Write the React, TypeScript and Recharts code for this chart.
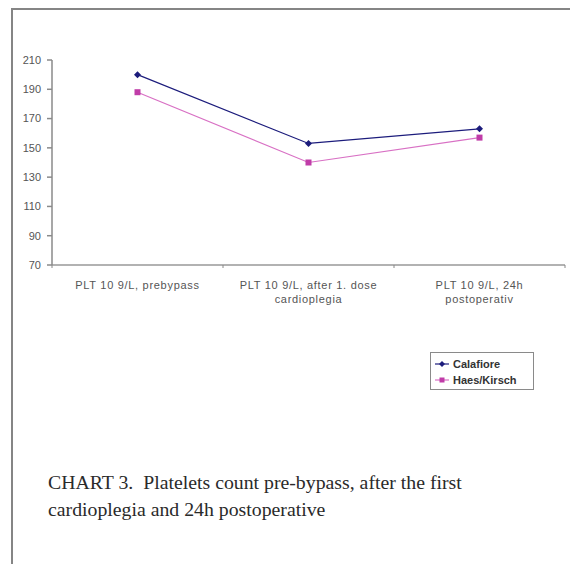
import React from 'react';
import { LineChart, Line, XAxis, YAxis } from 'recharts';

const categories = ['prebypass', 'after1', 'postop'];
const tickLines: string[][] = [
  ['PLT 10 9/L, prebypass'],
  ['PLT 10 9/L, after 1. dose', 'cardioplegia'],
  ['PLT 10 9/L, 24h', 'postoperativ'],
];
const calafiore = [200, 153, 163];
const haesKirsch = [188, 140, 157];
const yTicks = [70, 90, 110, 130, 150, 170, 190, 210];
const seriesNames = ['Calafiore', 'Haes/Kirsch'];

const BLUE = '#1c1c7c';
const PINK = '#d870c4';
const PINK_MARK = '#c03ca8';
const FONT = "'Liberation Sans', Arial, sans-serif";

const data = categories.map((c, i) => ({
  cat: c,
  calafiore: calafiore[i],
  haes: haesKirsch[i],
}));

const Diamond = (props: any) => {
  const { cx, cy } = props;
  if (cx == null || cy == null) return null;
  return <polygon points={`${cx},${cy - 3.5} ${cx + 3.5},${cy} ${cx},${cy + 3.5} ${cx - 3.5},${cy}`} fill={BLUE} />;
};

const Square = (props: any) => {
  const { cx, cy } = props;
  if (cx == null || cy == null) return null;
  return <rect x={cx - 3} y={cy - 3} width={6} height={6} fill={PINK_MARK} />;
};

const CategoryTick = (props: any) => {
  const { x, y, payload } = props;
  const idx = categories.indexOf(payload.value);
  const lines = tickLines[idx] || [];
  const half = payload.offset || 85.5;
  return (
    <g>
      <line x1={x - half} y1={y - 8} x2={x - half} y2={y - 5} stroke="#888" />
      {idx === categories.length - 1 && (
        <line x1={x + half} y1={y - 8} x2={x + half} y2={y - 5} stroke="#888" />
      )}
      {lines.map((l, i) => (
        <text key={i} x={x} y={y + 16 + i * 14} textAnchor="middle" fontSize={11} letterSpacing={0.7} fill="#555" fontFamily={FONT}>
          {l}
        </text>
      ))}
    </g>
  );
};

const LegendIcon = ({ color, mark, square }: { color: string; mark: string; square: boolean }) => (
  <svg width={16} height={8} style={{ marginRight: 3 }}>
    <line x1={1} y1={4} x2={15} y2={4} stroke={color} strokeWidth={1.2} />
    {square ? <rect x={5.5} y={1.5} width={5} height={5} fill={mark} /> : <polygon points="8,1 11,4 8,7 5,4" fill={mark} />}
  </svg>
);

export default function App() {
  return (
    <div style={{ position: 'absolute', left: 0, top: 0, width: 570, height: 564, background: '#fff', overflow: 'hidden' }}>
      <div style={{ position: 'absolute', left: 11, top: 8, width: 570, height: 570, borderLeft: '2px solid #858585', borderTop: '2px solid #858585' }} />
      <div style={{ position: 'absolute', left: 0, top: 0 }}>
        <LineChart width={570} height={310} data={data} margin={{ top: 60, right: 5, left: 0, bottom: 0 }}>
          <XAxis
            dataKey="cat"
            scale="band"
            height={45}
            stroke="#999"
            strokeWidth={1.5}
            tickLine={false}
            interval={0}
            tick={<CategoryTick />}
          />
          <YAxis
            width={52}
            domain={[70, 210]}
            ticks={yTicks}
            interval={0}
            stroke="#8a8a8a"
            strokeWidth={1.5}
            tickSize={5}
            tickMargin={6}
            tick={{ fontSize: 11, fill: '#555', fontFamily: FONT }}
          />
          <Line dataKey="calafiore" name={seriesNames[0]} stroke={BLUE} strokeWidth={1.2} dot={<Diamond />} activeDot={false} isAnimationActive={false} />
          <Line dataKey="haes" name={seriesNames[1]} stroke={PINK} strokeWidth={1.2} dot={<Square />} activeDot={false} isAnimationActive={false} />
        </LineChart>
      </div>
      <div
        style={{
          position: 'absolute', left: 430, top: 352, width: 104, height: 38,
          border: '1px solid #8a8a8a', fontFamily: FONT,
          fontSize: 11, fontWeight: 'bold', color: '#333', padding: '3px 0 0 3px', boxSizing: 'border-box',
        }}
      >
        <div style={{ display: 'flex', alignItems: 'center', height: 16 }}>
          <LegendIcon color={BLUE} mark={BLUE} square={false} />
          {seriesNames[0]}
        </div>
        <div style={{ display: 'flex', alignItems: 'center', height: 16 }}>
          <LegendIcon color={PINK} mark={PINK_MARK} square={true} />
          {seriesNames[1]}
        </div>
      </div>
      <div
        style={{
          position: 'absolute', left: 48, top: 469, fontFamily: "'Liberation Serif', 'DejaVu Serif', serif",
          fontSize: 19.8, lineHeight: '27px', color: '#2a2a2a', whiteSpace: 'nowrap',
        }}
      >
        <div>CHART 3.&nbsp; Platelets count pre-bypass, after the first</div>
        <div>cardioplegia and 24h postoperative</div>
      </div>
    </div>
  );
}
